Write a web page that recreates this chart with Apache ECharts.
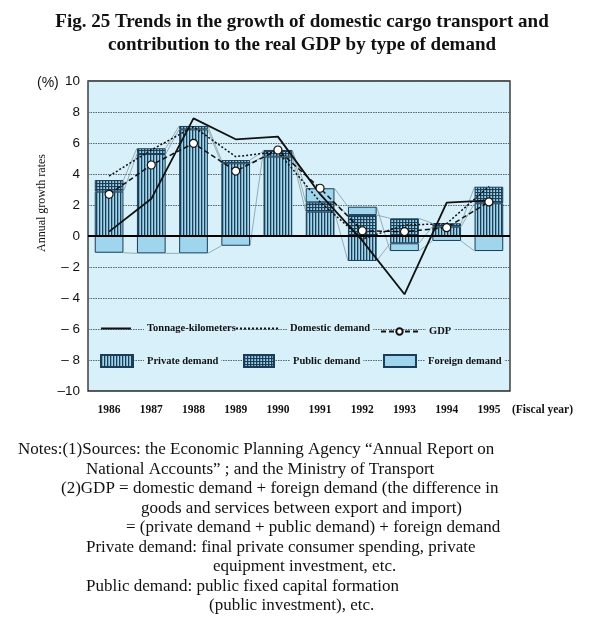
<!DOCTYPE html>
<html>
<head>
<meta charset="utf-8">
<script src="https://cdn.jsdelivr.net/npm/echarts@6/dist/echarts.min.js"></script>
<style>
html,body{margin:0;padding:0;background:#fff;}
#chart{width:604px;height:627px;}
</style>
</head>
<body>
<div id="chart"></div>
<script>
// ---- data ----
const years = ['1986','1987','1988','1989','1990','1991','1992','1993','1994','1995'];
const privateDemand  = [2.86, 5.29, 6.88, 4.69, 5.12, 1.57, -1.61, -0.47, 0.60, 2.11];
const publicDemand   = [0.75, 0.37, 0.22, 0.21, 0.36, 0.60, 1.35, 1.14, 0.22, 1.07];
const foreignDemand  = [-1.08, -1.12, -1.12, -0.63, 0.07, 0.91, 0.54, -0.50, -0.32, -0.97];
const gdp            = [2.69, 4.58, 5.98, 4.19, 5.55, 3.08, 0.34, 0.28, 0.54, 2.20];
const domesticDemand = [3.87, 5.55, 7.05, 5.12, 5.44, 2.20, -0.20, 0.70, 0.80, 3.20];
const tonnageKm      = [0.28, 2.40, 7.59, 6.24, 6.41, 2.70, -0.30, -3.76, 2.15, 2.30];
const yTicks = {min: -10, max: 10, interval: 2};

const titleLines = [
  'Fig. 25 Trends in the growth of domestic cargo transport and',
  'contribution to the real GDP by type of demand'
];
const noteLines = [
  'Notes:(1)Sources: the Economic Planning Agency \u201cAnnual Report on',
  'National Accounts\u201d ; and the Ministry of Transport',
  '(2)GDP = domestic demand + foreign demand (the difference in',
  'goods and services between export and import)',
  '= (private demand + public demand) + foreign demand',
  'Private demand: final private consumer spending, private',
  'equipment investment, etc.',
  'Public demand: public fixed capital formation',
  '(public investment), etc.'
];
const noteX = [18, 86, 61, 141, 126, 86, 213, 86, 209];

// ---- styles ----
const BG = '#d7f0fa';
const DARK = '#1b3d55';
const LIGHT = '#9fd6ee';
const SERIF = '"Liberation Serif", "DejaVu Serif", serif';
const SANS = '"Liberation Sans", Arial, sans-serif';

function makePattern(kind) {
  const c = document.createElement('canvas');
  c.width = 3; c.height = 3;
  const ctx = c.getContext('2d');
  ctx.fillStyle = LIGHT; ctx.fillRect(0, 0, 3, 3);
  ctx.fillStyle = DARK;
  ctx.fillRect(0, 0, 1.3, 3);
  if (kind === 'grid') ctx.fillRect(0, 0, 3, 1.1);
  return {image: c, repeat: 'repeat'};
}
const stripe = makePattern('stripe');
const gridPat = makePattern('grid');

function stackEnds(k) {
  let pos = 0, neg = 0;
  return [privateDemand[k], publicDemand[k], foreignDemand[k]].map(v => {
    if (v >= 0) { pos += v; return pos; } else { neg += v; return neg; }
  });
}

const chart = echarts.init(document.getElementById('chart'), null, {renderer: 'canvas'});

const legendText = (sp) => ({
  fontFamily: SERIF, fontWeight: 'bold', fontSize: 10.5, color: '#111',
  rich: {
    s: {width: sp, fontSize: 10.5},
    t: {backgroundColor: BG, padding: [1, 3], fontFamily: SERIF, fontWeight: 'bold', fontSize: 10.5, color: '#111'}
  }
});
function mkLegend(name, left, top, w, h, sp, extra) {
  return Object.assign({
    data: [name], left: left, top: top, padding: 0, itemWidth: w, itemHeight: h,
    selectedMode: false, formatter: n => '{s| }{t|' + n + '}', textStyle: legendText(sp)
  }, extra || {});
}
const noSymbol = {itemStyle: {color: 'rgba(0,0,0,0)', borderColor: 'rgba(0,0,0,0)', borderWidth: 0}};

const graphics = [];
titleLines.forEach((t, i) => graphics.push({
  type: 'text', x: 302, y: 22 + i * 23, z: 10,
  style: {text: t, textAlign: 'center', textVerticalAlign: 'middle',
    font: 'bold 19px ' + SERIF, fill: '#111'}
}));
noteLines.forEach((t, i) => graphics.push({
  type: 'text', x: noteX[i], y: 450 + i * 19.5, z: 10,
  style: {text: t, textAlign: 'left', textVerticalAlign: 'middle',
    font: '17px ' + SERIF, fill: '#111'}
}));
graphics.push({type: 'text', x: 37, y: 83, style: {text: '(%)', textVerticalAlign: 'middle', font: '14px ' + SANS, fill: '#111'}});
graphics.push({type: 'text', x: 512, y: 410, style: {text: '(Fiscal year)', textVerticalAlign: 'middle', font: 'bold 11.5px ' + SERIF, fill: '#111'}});
graphics.push({type: 'text', x: 42, y: 203, rotation: Math.PI / 2,
  style: {text: 'Annual growth rates', textAlign: 'center', textVerticalAlign: 'middle', font: '12px ' + SERIF, fill: '#111'}});

const option = {
  animation: false,
  backgroundColor: '#fff',
  grid: {left: 88, right: 94, top: 81, bottom: 236, show: true, backgroundColor: BG, borderColor: '#222', borderWidth: 1.3},
  xAxis: {
    type: 'category', data: years, boundaryGap: true,
    axisLine: {show: false}, axisTick: {show: false}, splitLine: {show: false},
    axisLabel: {margin: 13, fontFamily: SERIF, fontWeight: 'bold', fontSize: 11.5, color: '#111'}
  },
  yAxis: {
    type: 'value', min: yTicks.min, max: yTicks.max, interval: yTicks.interval,
    axisLine: {show: false}, axisTick: {show: false},
    splitLine: {lineStyle: {color: '#56646a', width: 1, type: [1.5, 1]}},
    axisLabel: {margin: 8, fontFamily: SANS, fontSize: 13.5, color: '#111',
      formatter: v => v < 0 ? (Math.abs(v) < 10 ? '\u2013 ' + Math.abs(v) : '\u2013' + Math.abs(v)) : String(v)}
  },
  legend: [
    mkLegend('Tonnage-kilometers', 100, 322, 30, 14, 8, noSymbol),
    mkLegend('Domestic demand', 235, 322, 42, 14, 4, noSymbol),
    mkLegend('GDP', 380, 325, 37, 8, 3),
    mkLegend('Private demand', 100, 354, 32, 12, 6, {icon: 'rect'}),
    mkLegend('Public demand', 243, 354, 30, 12, 11, {icon: 'rect'}),
    mkLegend('Foreign demand', 383, 354, 32, 12, 4, {icon: 'rect'})
  ],
  graphic: graphics,
  series: [
    {
      type: 'custom', name: 'connectors', z: 1, silent: true,
      data: years.map((y, i) => [i, 0]), encode: {x: 0, y: 1},
      renderItem: (params, api) => {
        const i = api.value(0);
        if (i >= years.length - 1) return null;
        const half = api.size([1, 0])[0] * 0.34;
        const a = stackEnds(i), b = stackEnds(i + 1);
        const children = [];
        for (let s = 0; s < 3; s++) {
          const p1 = api.coord([i, a[s]]), p2 = api.coord([i + 1, b[s]]);
          children.push({type: 'line', shape: {x1: p1[0] + half, y1: p1[1], x2: p2[0] - half, y2: p2[1]},
            style: {stroke: '#7a8f99', lineWidth: 0.7}});
        }
        return {type: 'group', children: children};
      }
    },
    {
      name: 'Private demand', type: 'bar', stack: 'd', barWidth: '68%', data: privateDemand,
      itemStyle: {color: stripe, borderColor: DARK, borderWidth: 1},
      markLine: {silent: true, symbol: 'none', label: {show: false}, data: [{yAxis: 0}],
        lineStyle: {color: '#000', width: 2, type: 'solid'}}
    },
    {
      name: 'Public demand', type: 'bar', stack: 'd', barWidth: '68%', data: publicDemand,
      itemStyle: {color: gridPat, borderColor: DARK, borderWidth: 1}
    },
    {
      name: 'Foreign demand', type: 'bar', stack: 'd', barWidth: '68%', data: foreignDemand,
      itemStyle: {color: LIGHT, borderColor: DARK, borderWidth: 1}
    },
    {
      name: 'Tonnage-kilometers', type: 'line', data: tonnageKm, symbol: 'none', z: 5,
      lineStyle: {color: '#111', width: 1.8}, itemStyle: {color: '#111'}
    },
    {
      name: 'Domestic demand', type: 'line', data: domesticDemand, symbol: 'none', z: 5,
      lineStyle: {color: '#111', width: 1.5, type: [2, 2]}, itemStyle: {color: '#111'}
    },
    {
      name: 'GDP', type: 'line', data: gdp, symbol: 'circle', symbolSize: 8, z: 6,
      lineStyle: {color: '#111', width: 1.5, type: [5, 3]},
      itemStyle: {color: '#fff', borderColor: '#111', borderWidth: 1.2}
    }
  ]
};
chart.setOption(option);
</script>
</body>
</html>
